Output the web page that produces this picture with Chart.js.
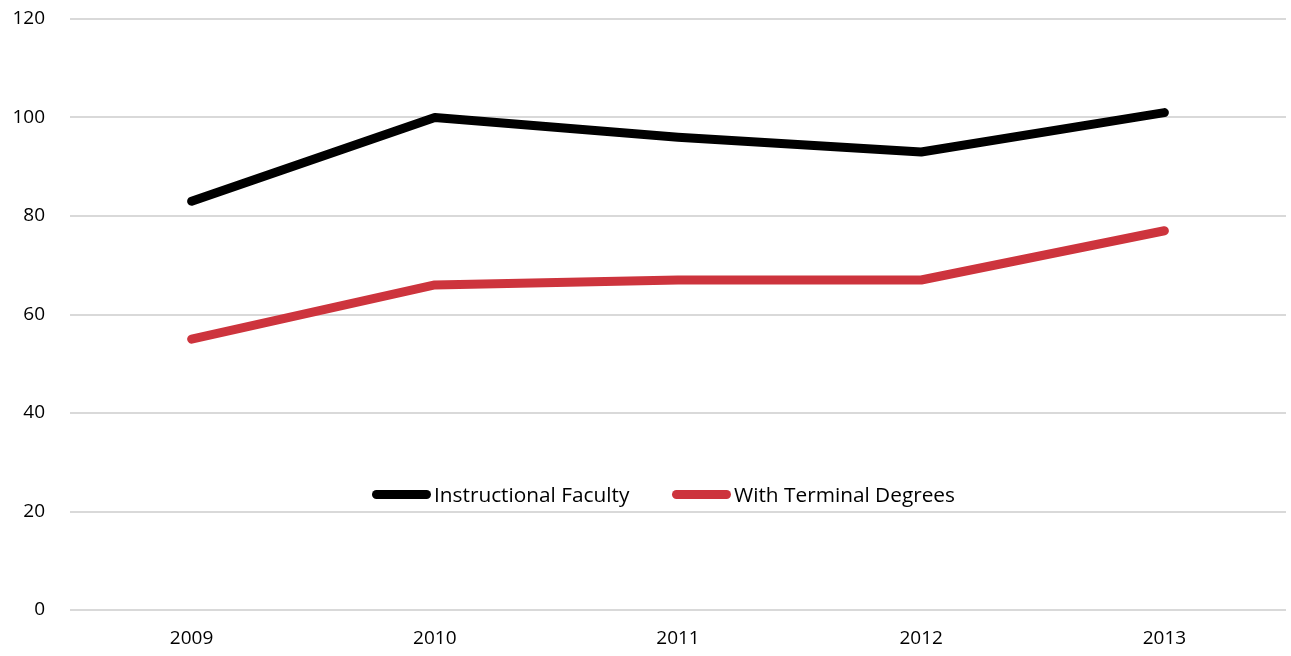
<!DOCTYPE html>
<html>
<head>
<meta charset="utf-8">
<script src="https://cdn.jsdelivr.net/npm/chart.js@4/dist/chart.umd.min.js"></script>
<style>
    html, body { margin: 0; padding: 0; background: #fff; }
    #wrap { position: relative; width: 1291px; height: 656px; }
    .item {
        position: absolute; top: 480px; height: 28px;
        display: flex; align-items: center;
        font-family: 'Open Sans', sans-serif; font-size: 20.8px; color: #000;
    }
    .swatch { width: 59px; height: 9px; border-radius: 4.5px; margin-right: 3px; }
</style>
</head>
<body>
<div id="wrap">
    <canvas id="lineChart" width="1291" height="656"></canvas>
</div>
<script>
const years = ['2009', '2010', '2011', '2012', '2013'];
const faculty = [83, 100, 96, 93, 101];
const terminal = [55, 66, 67, 67, 77];
const seriesNames = ['Instructional Faculty', 'With Terminal Degrees'];
const seriesColors = ['#000000', '#cd343d'];

const fontFamily = "'Open Sans', sans-serif";

const ctx = document.getElementById('lineChart').getContext('2d');
const lineChart = new Chart(ctx, {
    type: 'line',
    data: {
        labels: years,
        datasets: [
            { label: seriesNames[0], data: faculty, borderColor: seriesColors[0] },
            { label: seriesNames[1], data: terminal, borderColor: seriesColors[1] }
        ].map(ds => Object.assign(ds, {
            backgroundColor: 'transparent',
            borderWidth: 9,
            borderCapStyle: 'round',
            borderJoinStyle: 'round',
            pointRadius: 0,
            tension: 0
        }))
    },
    options: {
        responsive: false,
        animation: false,
        layout: { padding: { top: 19, right: 5, left: 0, bottom: 0 } },
        plugins: { legend: { display: false }, tooltip: { enabled: false } },
        scales: {
            y: {
                min: 0,
                max: 120,
                ticks: {
                    stepSize: 20,
                    padding: 25,
                    color: '#000',
                    font: { family: fontFamily, size: 19 }
                },
                grid: { color: '#d9d9d9', lineWidth: 2, drawTicks: false },
                border: { display: false },
                afterFit: scale => {
                    scale.width = 70;
                    scale.paddingTop = 0;
                }
            },
            x: {
                offset: true,
                ticks: {
                    padding: 9,
                    color: '#000',
                    font: { family: fontFamily, size: 19 }
                },
                grid: { display: false },
                border: { display: false },
                afterFit: scale => { scale.height = 46; }
            }
        }
    }
});

// legend sits inside the plot area, so build it in HTML
const legendLeft = [372, 672];
const wrap = document.getElementById('wrap');
seriesNames.forEach((name, i) => {
    const item = document.createElement('div');
    item.className = 'item';
    item.style.left = legendLeft[i] + 'px';
    item.innerHTML = '<div class="swatch" style="background:' + seriesColors[i] + '"></div><span>' + name + '</span>';
    wrap.appendChild(item);
});
</script>
</body>
</html>
